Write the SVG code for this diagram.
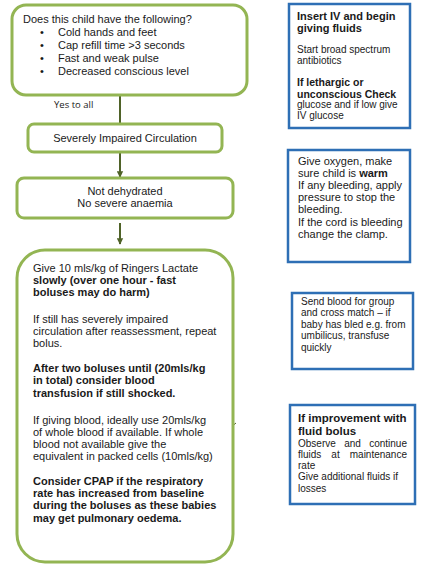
<svg xmlns="http://www.w3.org/2000/svg" width="423" height="575" viewBox="0 0 423 575">
<style>
.g{fill:#fff;stroke:#93b553;stroke-width:3}
.b{fill:#fff;stroke:#2e6fb5;stroke-width:2.5}
text{font-family:"Liberation Sans",Arial,sans-serif;fill:#1a1a1a}
.t11{font-size:11px}
.t10{font-size:10px}
.bd{font-weight:bold}
.c{text-anchor:middle}
.e{text-anchor:end}
.cn{stroke:#4f6228;stroke-width:2;fill:none}
</style>
<defs>
<marker id="ah" viewBox="0 0 10 10" refX="9" refY="5" markerWidth="3.2" markerHeight="3.5" orient="auto" markerUnits="strokeWidth">
<path d="M0,0 L10,5 L0,10 z" fill="#4f6228"/>
</marker>
</defs>
<rect width="423" height="575" fill="#fff"/>
<g id="connectors">
<line class="cn" x1="120" y1="95" x2="120" y2="124"/>
<line class="cn" x1="120" y1="152" x2="120" y2="177" marker-end="url(#ah)"/>
<line class="cn" x1="120" y1="223" x2="120" y2="244" stroke-width="2.5" marker-end="url(#ah)"/>
<line x1="233.5" y1="425" x2="236" y2="423" stroke="#4f6228" stroke-width="1"/>
<text x="54" y="108" style="font-family:'Open Sans','Noto Sans',sans-serif;font-size:9.5px">Yes to all</text>
</g>
<g id="node-question">
<rect class="g" x="12" y="5" width="235" height="90" rx="14"/>
<text class="t11" x="23" y="23">Does this child have the following?</text>
<text class="t11" x="40" y="36">•</text><text class="t11" x="58" y="36">Cold hands and feet</text>
<text class="t11" x="40" y="49">•</text><text class="t11" x="58" y="49">Cap refill time &gt;3 seconds</text>
<text class="t11" x="40" y="62">•</text><text class="t11" x="58" y="62">Fast and weak pulse</text>
<text class="t11" x="40" y="75">•</text><text class="t11" x="58" y="75">Decreased conscious level</text>
</g>
<g id="node-severe">
<rect class="g" x="28" y="124" width="194" height="28" rx="6"/>
<text class="t11 c" x="125" y="142">Severely Impaired Circulation</text>
</g>
<g id="node-notdehydrated">
<rect class="g" x="17" y="178" width="216" height="40" rx="7"/>
<text class="t11 c" x="125" y="195">Not dehydrated</text>
<text class="t11 c" x="125" y="207">No severe anaemia</text>
</g>
<g id="node-fluids">
<rect class="g" x="17" y="250" width="216" height="312" rx="28"/>
<text class="t11" x="33" y="272">Give 10 mls/kg of Ringers Lactate</text>
<text class="t11 bd" x="33" y="284">slowly (over one hour - fast</text>
<text class="t11 bd" x="33" y="296">boluses may do harm)</text>
<text class="t11" x="33" y="323">If still has severely impaired</text>
<text class="t11" x="33" y="335">circulation after reassessment, repeat</text>
<text class="t11" x="33" y="347">bolus.</text>
<text class="t11 bd" x="33" y="372">After two boluses until (20mls/kg</text>
<text class="t11 bd" x="33" y="384">in total) consider blood</text>
<text class="t11 bd" x="33" y="397">transfusion if still shocked.</text>
<text class="t11" x="33" y="424">If giving blood, ideally use 20mls/kg</text>
<text class="t11" x="33" y="436">of whole blood if available. If whole</text>
<text class="t11" x="33" y="448">blood not available give the</text>
<text class="t11" x="33" y="460">equivalent in packed cells (10mls/kg)</text>
<text class="t11 bd" x="33" y="485">Consider CPAP if the respiratory</text>
<text class="t11 bd" x="33" y="497">rate has increased from baseline</text>
<text class="t11 bd" x="33" y="509">during the boluses as these babies</text>
<text class="t11 bd" x="33" y="522">may get pulmonary oedema.</text>
</g>
<g id="node-insertiv">
<rect class="b" x="289" y="4" width="121" height="124"/>
<text class="t11 bd" x="297" y="20">Insert IV and begin</text>
<text class="t11 bd" x="297" y="32">giving fluids</text>
<text class="t10" x="297" y="53">Start broad spectrum</text>
<text class="t10" x="297" y="64">antibiotics</text>
<text class="bd" x="297" y="86" style="font-size:10.5px">If lethargic or</text>
<text class="bd" x="297" y="98" style="font-size:10.5px">unconscious Check</text>
<text class="t10" x="297" y="108">glucose and if low give</text>
<text class="t10" x="297" y="119">IV glucose</text>
</g>
<g id="node-oxygen">
<rect class="b" x="288" y="150" width="122" height="112"/>
<text class="t11" x="298" y="165">Give oxygen, make</text>
<text class="t11" x="298" y="177">sure child is <tspan class="bd">warm</tspan></text>
<text class="t11" x="298" y="189">If any bleeding, apply</text>
<text class="t11" x="298" y="201">pressure to stop the</text>
<text class="t11" x="298" y="213">bleeding.</text>
<text class="t11" x="298" y="226">If the cord is bleeding</text>
<text class="t11" x="298" y="238">change the clamp.</text>
</g>
<g id="node-blood">
<rect class="b" x="292" y="293" width="121" height="76"/>
<text class="t10" x="301" y="305">Send blood for group</text>
<text class="t10" x="301" y="316">and cross match – if</text>
<text class="t10" x="301" y="328">baby has bled e.g. from</text>
<text class="t10" x="301" y="339">umbilicus, transfuse</text>
<text class="t10" x="301" y="351">quickly</text>
</g>
<g id="node-improvement">
<rect class="b" x="290" y="405" width="125" height="99"/>
<text class="t11 bd" x="298" y="422" style="font-size:11.5px">If improvement with</text>
<text class="t11 bd" x="298" y="435" style="font-size:11.5px">fluid bolus</text>
<text class="t10" x="298" y="447">Observe</text><text class="t10 c" x="352.5" y="447">and</text><text class="t10 e" x="407" y="447">continue</text>
<text class="t10" x="298" y="458">fluids</text><text class="t10 c" x="335.5" y="458">at</text><text class="t10 e" x="407" y="458">maintenance</text>
<text class="t10" x="298" y="469">rate</text>
<text class="t10" x="298" y="480">Give additional fluids if</text>
<text class="t10" x="298" y="492">losses</text>
</g>
</svg>
